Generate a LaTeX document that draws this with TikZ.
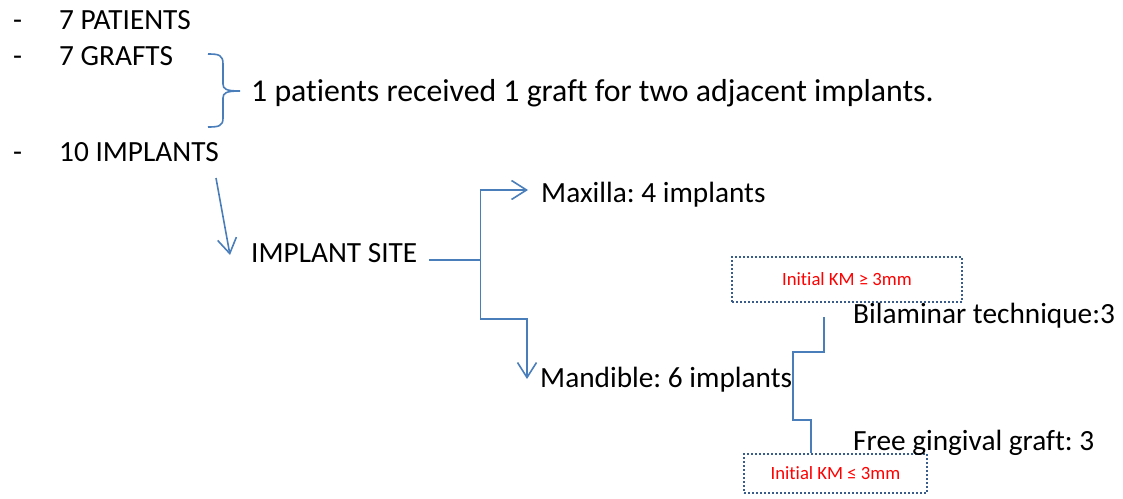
\documentclass[tikz,border=0pt]{standalone}
\usepackage{fontspec}
\setmainfont{Carlito}[Ligatures=NoCommon]
\usetikzlibrary{arrows.meta,calc}
\definecolor{linkblue}{HTML}{4A7EBB}
\definecolor{boxblue}{HTML}{385D8A}
\frenchspacing
\tikzset{
  txt/.style={anchor=base west,inner sep=0pt,font=\fontsize{29.3}{35}\selectfont},
  conn/.style={draw=linkblue,line width=1.6},
  arr/.style={conn,-{Straight Barb[length=15pt,width=19pt]}},
  kmbox/.style={draw=boxblue,line width=2,dash pattern=on 2pt off 2pt,text=red,
    font=\fontsize{18.7}{22}\selectfont,inner sep=0pt},
}
\begin{document}
\begin{tikzpicture}[x=1pt,y=-1pt]
\useasboundingbox (0,0) rectangle (1123,498);
% list
\node[txt] (dash1) at (13,29) {-};
\node[txt] (patients) at (59,29) {7 PATIENTS};
\node[txt] (dash2) at (13,65) {-};
\node[txt] (grafts) at (59,65) {7 GRAFTS};
\node[txt] (dash3) at (13,161) {-};
\node[txt] (implants) at (59,161) {10 IMPLANTS};
% brace
\draw[conn] (208,54) .. controls (219,54) and (223,55) .. (223,64) -- (223,84)
  .. controls (223,89) and (226,91) .. (240,91)
  .. controls (226,91) and (223,93) .. (223,98) -- (223,118)
  .. controls (223,126) and (219,127) .. (208,127);
\node[txt,font=\fontsize{31.8}{38}\selectfont] (single) at (251,101)
  {1 patients received 1 graft for two adjacent implants.};
% sites
\node[txt] (site) at (251,262) {IMPLANT SITE};
\node[txt] (maxilla) at (541,202) {Maxilla: 4 implants};
\node[txt] (mandible) at (540,387) {Mandible: 6 implants};
\draw[arr] ($(implants.base west)+(157,17)$) -- ($(site.base west)+(-21,-7)$);
\draw[conn] ($(site.base east)+(12,-2)$) -- ++(51,0) coordinate (fork);
\draw[arr] (fork) |- ($(maxilla.base west)+(-13,-12)$);
\draw[arr] (fork) |- ($(mandible.base west)+(-13,-68)$) -- ($(mandible.base west)+(-13,-8)$);
% techniques
\node[kmbox,minimum width=230,minimum height=45] (km1) at (847,279.5) {Initial KM ≥ 3mm};
\node[kmbox,minimum width=183,minimum height=39] (km2) at (835.5,473.5) {Initial KM ≤ 3mm};
\node[txt] (bilaminar) at (853,323) {Bilaminar technique:3};
\node[txt] (free) at (853,450) {Free gingival graft: 3};
\coordinate (bilam) at (824,317);
\draw[conn] (bilam) -- ++(0,35) -- ++(-31,0) -- ++(0,68) -- ++(18,0) coordinate (kink)
  -- (kink |- km2.north);
\end{tikzpicture}
\end{document}
